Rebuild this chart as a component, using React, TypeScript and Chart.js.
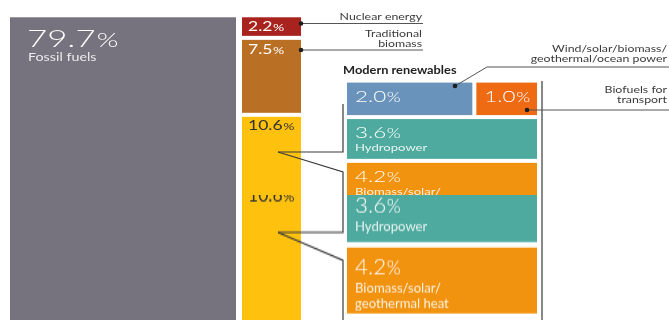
import React, { useEffect, useRef } from "react";
import { Chart, registerables } from "chart.js";

Chart.register(...registerables);

// ---------------- data ----------------
const mainCategories = ["Fossil fuels", "Nuclear energy", "Traditional biomass", "Modern renewables"];
const mainShares = [79.7, 2.2, 7.5, 10.6];
const mainColors = ["#77737e", "#a8231e", "#b96f24", "#fdc10e"];

const modernCategories = [
  "Wind/solar/biomass/geothermal/ocean power",
  "Biofuels for transport",
  "Hydropower",
  "Biomass/solar/geothermal heat",
];
const modernShares = [2.0, 1.0, 3.6, 4.2];
const modernRow = [0, 0, 1, 2];
const modernColors = ["#6a93bb", "#ee6b14", "#4eaa9e", "#f29310"];

const calloutLines = {
  nuclear: ["Nuclear energy"],
  traditional: ["Traditional", "biomass"],
  wind: ["Wind/solar/biomass/", "geothermal/ocean power"],
  biofuels: ["Biofuels for", "transport"],
};
const insideLines = [[], [], ["Hydropower"], ["Biomass/solar/", "geothermal heat"]];

// ---------------- layout (layout units = 0..669 x 0..320) ----------------
const FONT = '"Lato", "DejaVu Sans", sans-serif';
const FOSSIL_X = [10, 236];
const STACK_X = [242, 301];
const MODERN_X = [345, 539];
const GAP = 2;

function pctText(v: number) {
  return v.toFixed(1);
}

function drawText(
  ctx: CanvasRenderingContext2D,
  s: string,
  x: number,
  y: number,
  size: number,
  weight: number,
  color: string,
  align: CanvasTextAlign = "left",
  sx = 1.35
) {
  ctx.save();
  ctx.font = `${weight} ${size}px ${FONT}`;
  ctx.fillStyle = color;
  ctx.textBaseline = "alphabetic";
  ctx.textAlign = align;
  ctx.translate(x, y);
  ctx.scale(sx, 1);
  ctx.fillText(s, 0, 0);
  ctx.restore();
}

function drawPct(
  ctx: CanvasRenderingContext2D,
  v: number,
  x: number,
  baseline: number,
  size: number,
  weight: number,
  color: string,
  sx: number
) {
  const num = pctText(v);
  ctx.save();
  ctx.font = `${weight} ${size}px ${FONT}`;
  const w = ctx.measureText(num).width * sx;
  ctx.restore();
  drawText(ctx, num, x, baseline, size, weight, color, "left", sx);
  drawText(ctx, "%", x + w + size * 0.04, baseline, size * 0.8, weight, color, "left", sx);
}

const energyPlugin = {
  id: "energyBlocks",
  afterDraw(chart: any) {
    const ctx: CanvasRenderingContext2D = chart.ctx;
    const sx = chart.scales.x;
    const sy = chart.scales.y;
    const sy2 = chart.scales.y2;
    const sa = chart.scales.ya;
    const X = (v: number) => sx.getPixelForValue(v);
    const Y = (v: number) => sy.getPixelForValue(v);
    const Y2 = (v: number) => sy2.getPixelForValue(v);
    const A = (v: number) => sa.getPixelForValue(v);

    ctx.save();
    // ---- fossil fuels block ----
    {
      const l = X(FOSSIL_X[0]);
      const r = X(FOSSIL_X[1]);
      const t = Y(0) + GAP;
      const b = Y(mainShares[0]) - GAP;
      ctx.fillStyle = mainColors[0];
      ctx.fillRect(l, t, r - l, b - t);
      drawPct(ctx, mainShares[0], l + 17, t + 30, 24, 300, "#ffffff", 1.45);
      drawText(ctx, mainCategories[0], l + 18, t + 44, 11, 400, "rgba(255,255,255,0.85)", "left", 1.3);
    }
    // ---- stacked column ----
    let cum = 0;
    const stackTops: number[] = [];
    for (let i = 1; i < mainShares.length; i++) {
      const l = X(STACK_X[0]);
      const r = X(STACK_X[1]);
      const t = Y(cum) + GAP;
      const b = Y(cum + mainShares[i]) - GAP;
      stackTops.push(t);
      ctx.fillStyle = mainColors[i];
      ctx.fillRect(l, t, r - l, b - t);
      const dark = i === 3;
      drawPct(ctx, mainShares[i], l + 6, t + 9 + 13 * 0.36, 13, 400, dark ? "#333333" : "#ffffff", 1.35);
      cum += mainShares[i];
    }
    // ---- modern renewables breakdown ----
    const rows: number[] = [];
    modernShares.forEach((v, i) => {
      rows[modernRow[i]] = (rows[modernRow[i]] || 0) + v;
    });
    const rowStart: number[] = [];
    let c2 = 0;
    rows.forEach((tot, r) => {
      rowStart[r] = c2;
      c2 += tot;
    });
    const rowUsed: number[] = rows.map(() => 0);
    modernShares.forEach((v, i) => {
      const r = modernRow[i];
      const tot = rows[r];
      const span = MODERN_X[1] - MODERN_X[0];
      const x0 = MODERN_X[0] + (span * rowUsed[r]) / tot;
      const x1 = MODERN_X[0] + (span * (rowUsed[r] + v)) / tot;
      rowUsed[r] += v;
      const l = X(x0) + GAP;
      const rr = X(x1) - GAP;
      const t = Y2(rowStart[r]) + GAP;
      const b = Y2(rowStart[r] + tot) - GAP;
      ctx.fillStyle = modernColors[i];
      ctx.fillRect(l, rr > l ? t : t, rr - l, b - t);
      drawPct(ctx, v, l + 8, t + 13.5 + 16 * 0.36, 16, 300, "#ffffff", 1.4);
      insideLines[i].forEach((line, k) => {
        drawText(ctx, line, l + 8, t + 29 + k * 11 + 3.3, 9.5, 400, "rgba(255,255,255,0.88)", "left", 1.38);
      });
    });

    // ---- connector lines ----
    ctx.strokeStyle = "#3a3a3a";
    ctx.lineWidth = 1.2;
    const poly = (pts: number[][]) => {
      ctx.beginPath();
      pts.forEach((p, k) => (k ? ctx.lineTo(X(p[0]), A(p[1])) : ctx.moveTo(X(p[0]), A(p[1]))));
      ctx.stroke();
    };
    const dot = (p: number[]) => {
      ctx.beginPath();
      ctx.fillStyle = "#1e1e1e";
      ctx.arc(X(p[0]), A(p[1]), 2.3, 0, Math.PI * 2);
      ctx.fill();
    };
    // bracket around modern renewables
    poly([[343, 104], [343, 152], [278, 152]]);
    poly([[278, 152], [343, 172], [343, 320]]);
    poly([[542, 81], [542, 320]]);

    // callouts
    ctx.lineWidth = 1;
    ctx.strokeStyle = "#555555";
    poly([[301, 23.5], [423, 23.5]]);
    dot([301, 23.5]);
    poly([[301, 50], [423, 50]]);
    dot([301, 50]);
    poly([[455, 86], [487, 67], [669, 67]]);
    dot([455, 86]);
    poly([[527, 110], [669, 110]]);
    dot([527, 110]);

    const labelColor = "#3a3a3a";
    calloutLines.nuclear.forEach((s, k) => drawText(ctx, s, X(422), A(16.5 + k * 10) + 3.3, 9.5, 400, labelColor, "right", 1.3));
    calloutLines.traditional.forEach((s, k) => drawText(ctx, s, X(422), A(33.5 + k * 10) + 3.3, 9.5, 400, labelColor, "right", 1.3));
    calloutLines.wind.forEach((s, k) => drawText(ctx, s, X(667), A(49 + k * 10) + 3.3, 9.5, 400, labelColor, "right", 1.3));
    calloutLines.biofuels.forEach((s, k) => drawText(ctx, s, X(667), A(90 + k * 10) + 3.3, 9.5, 400, labelColor, "right", 1.3));
    drawText(ctx, mainCategories[3], X(343), A(70) + 3.8, 10.5, 700, "#222222", "left", 1.22);
    ctx.restore();
  },
};

function makeConfig(): any {
  return {
    type: "scatter",
    data: { datasets: [] },
    options: {
      responsive: false,
      animation: false,
      events: [],
      layout: { padding: 0 },
      plugins: { legend: { display: false }, tooltip: { enabled: false }, title: { display: false } },
      scales: {
        x: { type: "linear", display: false, min: 0, max: 669 },
        y: { type: "linear", display: false, min: -1.49, max: 29.7, reverse: true },
        y2: { type: "linear", display: false, min: -6.628, max: 19.688, reverse: true },
        ya: { type: "linear", display: false, min: 0, max: 320, reverse: true },
      },
    },
    plugins: [energyPlugin],
  };
}

export default function App() {
  const topRef = useRef<HTMLCanvasElement>(null);
  const botRef = useRef<HTMLCanvasElement>(null);
  useEffect(() => {
    document.body.style.margin = "0";
    const charts = [topRef.current, botRef.current].map((c) => new Chart(c as HTMLCanvasElement, makeConfig()));
    return () => charts.forEach((ch) => ch.destroy());
  }, []);
  return (
    <div style={{ position: "absolute", left: 0, top: 0, width: 669, height: 320, overflow: "hidden", background: "#ffffff" }}>
      <div style={{ position: "absolute", left: 0, top: 0, width: 669, height: 195, overflow: "hidden" }}>
        <canvas ref={topRef} width={669} height={320} style={{ display: "block" }} />
      </div>
      <div style={{ position: "absolute", left: 0, top: 195, width: 669, height: 125, overflow: "hidden" }}>
        <canvas
          ref={botRef}
          width={669}
          height={320}
          style={{ display: "block", transformOrigin: "0 0", transform: "translateY(-175.4px) scaleY(1.4)" }}
        />
      </div>
    </div>
  );
}
